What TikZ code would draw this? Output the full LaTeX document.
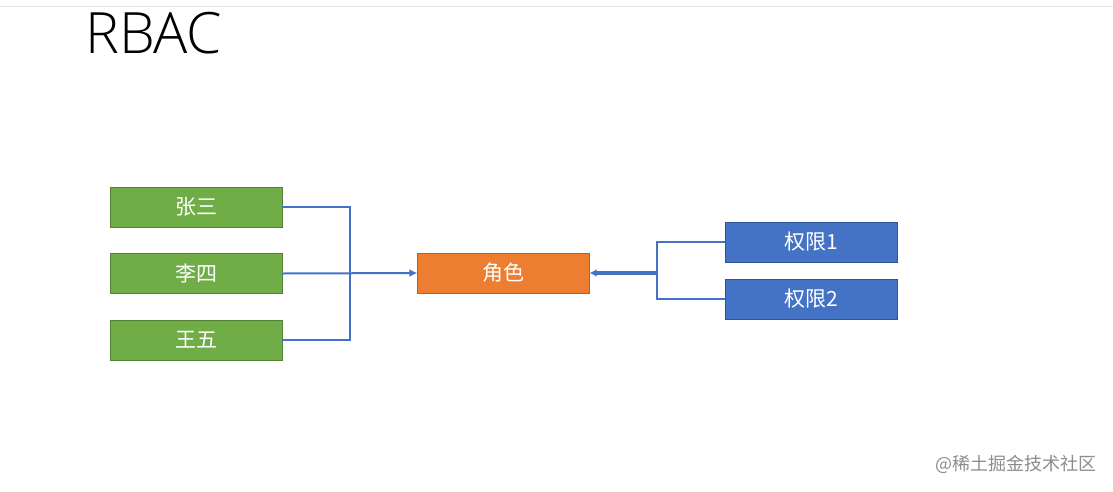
\documentclass[tikz,border=0pt]{standalone}
\usepackage{fontspec}
\setmainfont{Open Sans}
\newfontfamily\titlefont{Open Sans}[UprightFont=* Light]
\newfontfamily\cjk{Noto Sans CJK SC}
\usepackage{tikz}
\usetikzlibrary{arrows.meta}
\usepackage{xcolor}

\definecolor{usergreen}{HTML}{70AD47}
\definecolor{userline}{HTML}{548235}
\definecolor{roleorange}{HTML}{ED7D31}
\definecolor{roleline}{HTML}{C55A11}
\definecolor{permblue}{HTML}{4472C4}
\definecolor{permline}{HTML}{2F5597}

\tikzset{
    basebox/.style={minimum width=172pt, minimum height=40pt, inner sep=0pt,
        text=white, font=\cjk\fontsize{21}{21}\selectfont},
    userbox/.style={basebox, draw=userline, fill=usergreen},
    rolebox/.style={basebox, draw=roleline, fill=roleorange},
    permbox/.style={basebox, draw=permline, fill=permblue},
    link/.style={draw=permblue, line width=2pt},
}

\begin{document}
\begin{tikzpicture}[x=1pt,y=-1pt]

        \useasboundingbox (0,0) rectangle (1113,491);

        \draw[black!10, line width=0.8pt] (0,6) -- (1113,6);

        \node[anchor=base west, inner sep=0pt, font=\titlefont\fontsize{57}{57}\selectfont] (title) at (85,53) {RBAC};

        \coordinate (U) at (196,207);

        \coordinate (LJ) at (350,273.5);

        \coordinate (RJ) at (657,273.5);

        \node[userbox] (zs) at (U) {张三};

        \node[userbox, yshift=-66.5pt] (ls) at (U) {李四};

        \node[userbox, yshift=-133pt] (ww) at (U) {王五};

        \node[rolebox] (role) at (503.5,273) {角色};

        \node[permbox] (p1) at (811,242) {权限1};

        \node[permbox] (p2) at (811,299) {权限2};

        \draw[link] (zs.east) -- (zs.east -| LJ) -- (ww.east -| LJ) -- (ww.east);

        \draw[link, -{Latex[length=8pt,width=8pt]}] (ls.east) -- (role.west);

        \draw[link, line width=2.6pt] (p1.west) -- (p1.west -| RJ) -- (p2.west -| RJ) -- (p2.west);

        \draw[link, line width=3.2pt, -{Latex[length=7pt,width=8pt]}] (RJ |- role.east) -- (role.east);

        % \draw[gray] (665,235) -- (665,252);

        \node[anchor=east, text=black!45, font=\cjk\fontsize{18}{18}\selectfont] (mark) at (1100,464) {@稀土掘金技术社区};
    \end{tikzpicture}
\end{document}
